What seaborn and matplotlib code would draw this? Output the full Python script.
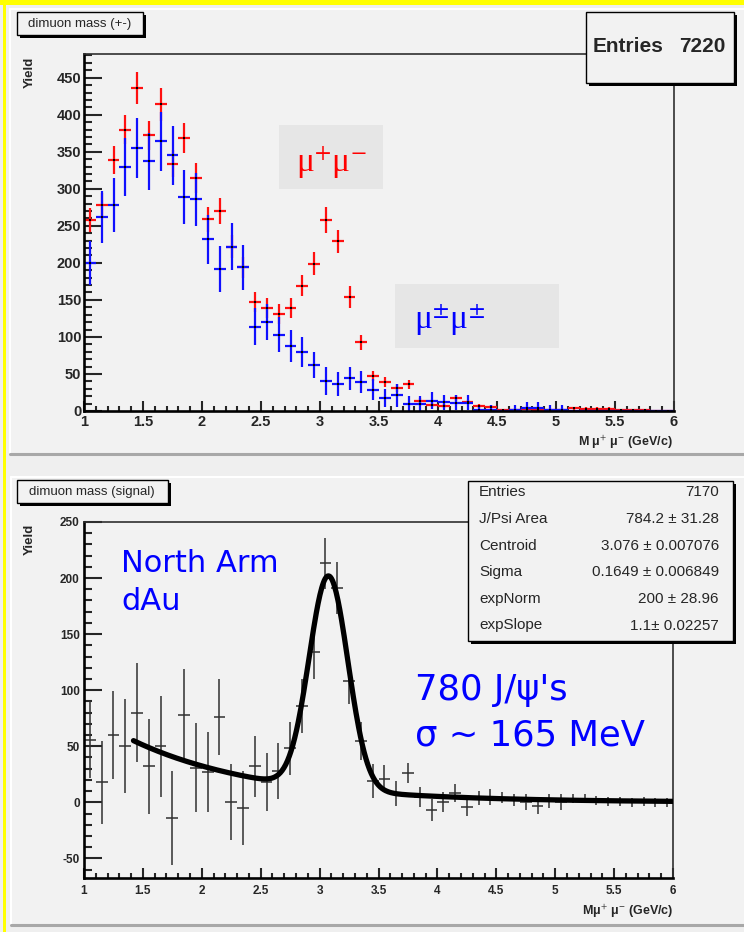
import numpy as np
import pandas as pd
import matplotlib
matplotlib.use("Agg")
import matplotlib.pyplot as plt
from matplotlib.patches import Rectangle
from matplotlib.ticker import MultipleLocator, FuncFormatter
import seaborn as sns

sns.set_style("ticks")
plt.rcParams["font.family"] = ["Liberation Sans", "DejaVu Sans"]
plt.rcParams["mathtext.fontset"] = "stix"

# ---- histogram binning (GeV/c^2) ----
BIN_LO, BIN_HI, BIN_W = 1.0, 6.0, 0.1
mass = np.round(np.arange(BIN_LO + BIN_W / 2, BIN_HI, BIN_W), 2)

# ---- top: unlike-sign and like-sign dimuon yields ----
unlike_yield = [258, 278, 339, 380, 436, 372, 414, 334, 369, 315,
                259, 270, 222, 194, 147, 139, 131, 139, 169, 199,
                258, 229, 154, 93, 47, 39, 31, 36, 14, 8,
                7, 18, 12, 7, 6, 2, 1, 3, 2, 1,
                1, 4, 3, 3, 3, 1, 1, 2, 0, 0]
unlike_err = [16, 16, 19, 19, 22, 19, 22, 18, 20, 20,
              17, 17, 15, 14, 14, 14, 13, 13, 14, 15,
              17, 16, 15, 10, 7, 7, 6, 6, 4, 3,
              3, 4, 3, 3, 2, 1, 1, 2, 1, 1,
              1, 2, 2, 2, 2, 1, 1, 1, 0, 0]
like_yield = [200, 262, 278, 329, 355, 337, 364, 345, 289, 286,
              232, 192, 222, 194, 114, 120, 103, 88, 80, 62,
              41, 36, 44, 39, 29, 18, 21, 10, 10, 14,
              12, 11, 11, 2, 2, 0, 2, 4, 4, 2,
              2, 0, 0, 0, 0, 0, 0, 0, 0, 0]
like_err = [30, 35, 36, 39, 40, 38, 40, 40, 36, 36,
            33, 31, 32, 30, 25, 24, 24, 22, 20, 18,
            19, 16, 15, 15, 14, 12, 15, 10, 10, 11,
            10, 10, 10, 6, 6, 0, 6, 8, 8, 6,
            6, 0, 0, 0, 0, 0, 0, 0, 0, 0]

# ---- bottom: background-subtracted signal ----
signal_yield = [56, 18, 60, 50, 80, 32, 50, -14, 78, 31,
                27, 76, 0, -5, 32, 18, 28, 48, 86, 134,
                213, 191, 108, 55, 19, 21, 8, 26, 5, -7,
                0, 8, -4, 4, 5, 4, 2, 0, -3, 1,
                0, 3, 3, 2, 1, 1, 0, 1, 0, 0]
signal_err = [34, 37, 39, 42, 44, 42, 45, 42, 41, 40,
              36, 34, 34, 33, 27, 26, 25, 24, 24, 24,
              23, 23, 20, 17, 15, 12, 11, 9, 9, 10,
              9, 8, 8, 6, 7, 5, 5, 7, 7, 6,
              7, 4, 4, 4, 4, 4, 4, 4, 4, 4]

# ---- fit results: gaussian + exponential ----
entries_top = 7220
entries_sig = 7170
jpsi_area, jpsi_area_err = 784.2, 31.28
centroid, centroid_err = 3.076, 0.007076
sigma, sigma_err = 0.1649, 0.006849
exp_norm, exp_norm_err = 200, 28.96
exp_slope, exp_slope_err = 1.1, 0.02257
fit_lo, fit_hi = 1.42, 6.0

df_top = pd.DataFrame({"mass": mass, "unlike": unlike_yield, "unlike_err": unlike_err,
                       "like": like_yield, "like_err": like_err})
df_sig = pd.DataFrame({"mass": mass, "yield": signal_yield, "err": signal_err})

m_fit = np.linspace(fit_lo, fit_hi, 600)
gauss = jpsi_area * BIN_W / (np.sqrt(2 * np.pi) * sigma) * np.exp(-0.5 * ((m_fit - centroid) / sigma) ** 2)
fit_curve = gauss + exp_norm * np.exp(-m_fit / exp_slope)

W, H = 744, 932
PAD = "#f2f2f2"
fig = plt.figure(figsize=(W / 100, H / 100), dpi=100, facecolor="#efefef")


def px_axes(x0, y0, x1, y1, **kw):
    return fig.add_axes([x0 / W, 1 - y1 / H, (x1 - x0) / W, (y1 - y0) / H], **kw)


# canvas decoration (pixel coordinates, y downward)
bg = fig.add_axes([0, 0, 1, 1], zorder=0)
bg.set_xlim(0, W)
bg.set_ylim(H, 0)
bg.axis("off")
bg.add_patch(Rectangle((10, 9), W - 10, 444, facecolor=PAD, edgecolor="none"))
bg.add_patch(Rectangle((11, 477), W - 11, 447, facecolor=PAD, edgecolor="none"))
bg.plot([10, W], [9, 9], color="white", lw=1.5)
bg.plot([10, 10], [9, 453], color="white", lw=1.5)
bg.plot([10, W], [454, 454], color="#a8a8a8", lw=2.2)
bg.plot([11, W], [477, 477], color="white", lw=1.5)
bg.plot([11, 11], [477, 924], color="white", lw=1.5)
bg.plot([11, W], [925, 925], color="#a8a8a8", lw=2.2)
bg.add_patch(Rectangle((0, 0), W, 5, facecolor="#ffff00", edgecolor="none"))
bg.add_patch(Rectangle((3, 0), 3, H, facecolor="#ffff00", edgecolor="none"))


def style_axes(ax, ylim, ymajor, lab_size, xpad, ypad):
    ax.set_facecolor(PAD)
    ax.set_xlim(BIN_LO, BIN_HI)
    ax.set_ylim(*ylim)
    ax.xaxis.set_major_locator(MultipleLocator(0.5))
    ax.xaxis.set_minor_locator(MultipleLocator(0.1))
    ax.yaxis.set_major_locator(MultipleLocator(ymajor))
    ax.yaxis.set_minor_locator(MultipleLocator(10))
    ax.xaxis.set_major_formatter(FuncFormatter(lambda v, p: f"{v:g}"))
    ax.yaxis.set_major_formatter(FuncFormatter(lambda v, p: f"{v:g}"))
    ax.tick_params(axis="y", which="major", direction="in", length=13, width=1.5,
                   labelsize=lab_size, pad=ypad, right=False)
    ax.tick_params(axis="y", which="minor", direction="in", length=6, width=1.5, right=False)
    ax.tick_params(axis="x", which="major", direction="in", length=7.5, width=1.5,
                   labelsize=lab_size, pad=xpad, top=False)
    ax.tick_params(axis="x", which="minor", direction="in", length=3.8, width=1.5, top=False)
    for side in ("left", "bottom"):
        ax.spines[side].set_linewidth(1.9)
        ax.spines[side].set_color("black")
    for side in ("top", "right"):
        ax.spines[side].set_linewidth(1.2)
        ax.spines[side].set_color("#303030")
    ax.set_xlabel("")
    ax.set_ylabel("")
    for lbl in ax.get_xticklabels() + ax.get_yticklabels():
        lbl.set_fontweight("bold")


# ---- top panel ----
ax1 = px_axes(84, 54, 674, 411, zorder=1)
ax1.errorbar(df_top["mass"], df_top["unlike"], yerr=df_top["unlike_err"], xerr=BIN_W / 2,
             fmt="none", ecolor="#ff1010", elinewidth=1.6, capsize=0)
ax1.errorbar(df_top["mass"], df_top["like"], yerr=df_top["like_err"], xerr=BIN_W / 2,
             fmt="none", ecolor="#1010ff", elinewidth=1.6, capsize=0)
sns.scatterplot(data=df_top, x="mass", y="unlike", marker="s", s=4, color="black",
                linewidth=0, ax=ax1, zorder=3)
sns.scatterplot(data=df_top, x="mass", y="like", marker="s", s=4, color="black",
                linewidth=0, ax=ax1, zorder=3)
style_axes(ax1, (0, 482), 50, 10.5, 3, 2)

# ---- bottom panel ----
ax2 = px_axes(84, 522, 673, 878, zorder=1)
ax2.errorbar(df_sig["mass"], df_sig["yield"], yerr=df_sig["err"], xerr=BIN_W / 2,
             fmt="none", ecolor="#303030", elinewidth=1.1, capsize=0)
sns.lineplot(x=m_fit, y=fit_curve, color="black", linewidth=3.8, ax=ax2, zorder=3)
style_axes(ax2, (-67.5, 250), 50, 8.5, 5, 3)

# ---- overlay: labels, title boxes, statistics boxes ----
fg = fig.add_axes([0, 0, 1, 1], zorder=5)
fg.set_xlim(0, W)
fg.set_ylim(H, 0)
fg.axis("off")
fg.patch.set_alpha(0)


def shadow_box(x0, y0, x1, y1, off=3):
    fg.add_patch(Rectangle((x0 + off, y0 + off), x1 - x0, y1 - y0, facecolor="black",
                           edgecolor="none"))
    fg.add_patch(Rectangle((x0, y0), x1 - x0, y1 - y0, facecolor=PAD, edgecolor="black",
                           linewidth=1.0))


shadow_box(17, 12, 143, 35)
fg.text(80, 23.5, "dimuon mass (+-)", ha="center", va="center", fontsize=9.5)
shadow_box(17, 480, 168, 503)
fg.text(92, 491.5, "dimuon mass (signal)", ha="center", va="center", fontsize=9.5)

shadow_box(586, 12, 734, 83, off=3)
fg.text(593, 47, "Entries", ha="left", va="center", fontsize=15, fontweight="bold")
fg.text(726, 47, f"{entries_top}", ha="right", va="center", fontsize=15, fontweight="bold")

shadow_box(468, 481, 733, 641, off=3)
stat_rows = [
    ("Entries", f"{entries_sig}"),
    ("J/Psi Area", f"{jpsi_area} \u00b1 {jpsi_area_err}"),
    ("Centroid", f"{centroid} \u00b1 {centroid_err}"),
    ("Sigma", f"{sigma} \u00b1 {sigma_err}"),
    ("expNorm", f"{exp_norm} \u00b1 {exp_norm_err}"),
    ("expSlope", f"{exp_slope}\u00b1 {exp_slope_err}"),
]
for i, (name, val) in enumerate(stat_rows):
    yy = 492.5 + i * 26.6
    fg.text(479, yy, name, ha="left", va="center", fontsize=11)
    fg.text(719, yy, val, ha="right", va="center", fontsize=11)

# axis titles
for ytop in (57, 524):
    fg.text(30, ytop, "Yield", rotation=90, ha="center", va="top", fontsize=9.5,
            fontweight="bold")
fg.text(673, 442, "M \u03bc$^{+}$ \u03bc$^{-}$ (GeV/c)", ha="right", va="center", fontsize=9,
        fontweight="bold")
fg.text(673, 911, "M\u03bc$^{+}$ \u03bc$^{-}$ (GeV/c)", ha="right", va="center", fontsize=9,
        fontweight="bold")

# charge-combination labels
fg.add_patch(Rectangle((279, 125), 104, 64, facecolor="#e6e6e6", edgecolor="none"))
fg.text(331, 163, "\u03bc$^{+}$\u03bc$^{-}$", color="#ff0000", ha="center", va="center",
        fontsize=24, family=["Liberation Serif", "DejaVu Serif"])
fg.add_patch(Rectangle((395, 284), 164, 64, facecolor="#e6e6e6", edgecolor="none"))
fg.text(450, 320, "\u03bc$^{\\pm}$\u03bc$^{\\pm}$", color="#0000ff", ha="center", va="center",
        fontsize=24, family=["Liberation Serif", "DejaVu Serif"])

# run / fit annotations
note = dict(color="#0000ff", ha="left", va="baseline", family=["DejaVu Sans"], fontweight="normal")
fg.text(121, 572, "North Arm", fontsize=22, **note)
fg.text(121, 610, "dAu", fontsize=22, **note)
fg.text(415, 700, "780 J/\u03c8's", fontsize=25.5, **note)
fg.text(415, 745, "\u03c3 ~ 165 MeV", fontsize=25.5, **note)

fig.savefig("out.png", dpi=100, facecolor=fig.get_facecolor())
